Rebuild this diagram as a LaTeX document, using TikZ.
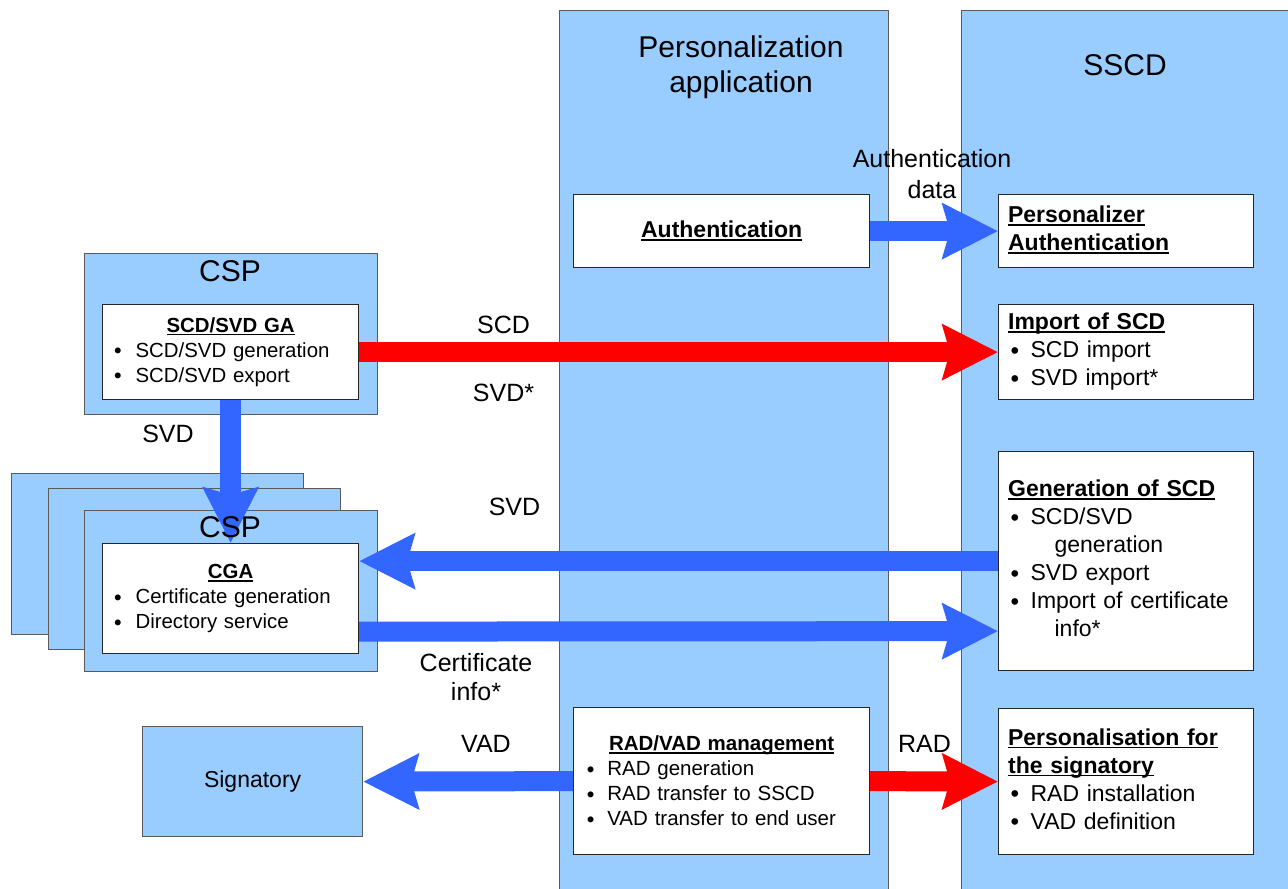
\documentclass[tikz,border=0pt]{standalone}
\usepackage{fontspec}
\setmainfont{Liberation Sans}
\newfontfamily\bulfont{DejaVu Sans}
\usetikzlibrary{arrows.meta}
\definecolor{lblue}{HTML}{99CCFF}
\definecolor{abl}{HTML}{3366FF}
\definecolor{ared}{HTML}{FF0000}
\definecolor{edgegray}{HTML}{5A5A5A}
\newsavebox{\myulbox}
\newcommand{\myul}[1]{\sbox{\myulbox}{#1}\rlap{\rule[-3.2pt]{\wd\myulbox}{1.6pt}}\usebox{\myulbox}}
\newcommand{\hd}[1]{\textbf{\myul{#1}}}
\newcommand{\bl}[2]{\makebox[#1][l]{\raisebox{-0.07em}{\bulfont •}}#2}
\newcommand{\twol}[2]{\begin{tabular}[t]{@{}c@{}}#1\\#2\end{tabular}}
\begin{document}
\begin{tikzpicture}[x=1pt,y=-1pt,
  colbox/.style={draw=edgegray, fill=lblue, line width=1.2pt, anchor=north west, inner sep=0pt},
  cspbox/.style={draw=edgegray, fill=lblue, line width=1.2pt, anchor=north west, inner sep=0pt},
  wbox/.style={draw=black!85, fill=white, line width=1.2pt, anchor=north west, inner ysep=0pt},
  lftxt/.style={font=\fontsize{20.4}{25}\selectfont, align=left, text width=237.4pt, inner xsep=9.3pt},
  rgtxt/.style={font=\fontsize{23}{28}\selectfont, align=left, text width=236pt, inner xsep=9.5pt},
  title/.style={anchor=base, inner sep=0pt, font=\fontsize{30}{35}\selectfont},
  lbl/.style={anchor=base, inner sep=0pt, font=\fontsize{25}{30}\selectfont},
  bigarr/.style={line width=20pt, -{Stealth[length=55pt,width=54pt,inset=7pt]}},
]
\useasboundingbox (0,0) rectangle (1288,889);

% columns
\node[colbox, minimum width=329pt, minimum height=890pt] (persapp) at (559,10) {};
\node[colbox, minimum width=345pt, minimum height=890pt] (sscd) at (961,10) {};
\node[title] (persapptitle) at (741,57) {\twol{Personalization}{application}};
\node[title] (sscdtitle) at (1125,75) {SSCD};

% CSP boxes
\node[cspbox, minimum width=293pt, minimum height=161pt] (cspa) at (84,253) {};
\node[cspbox, minimum width=292pt, minimum height=161pt] (cspb1) at (11,473) {};
\node[cspbox, minimum width=292pt, minimum height=161pt] (cspb2) at (48,488) {};
\node[cspbox, minimum width=293pt, minimum height=161pt] (cspb3) at (84,510) {};
\node[title] (cspatitle) at (230,281) {CSP};

% white boxes, left
\node[wbox, lftxt, minimum height=95pt] (ga) at (102,304)
 {\strut\hbox to\hsize{\hss\hd{SCD/SVD GA}\hss}\\
  \bl{23.7pt}{SCD/SVD generation}\\
  \bl{23.7pt}{SCD/SVD export}\strut};
\node[wbox, lftxt, minimum height=110pt] (cga) at (102,543)
 {\strut\hbox to\hsize{\hss\hd{CGA}\hss}\\
  \bl{23.7pt}{Certificate generation}\\
  \bl{23.7pt}{Directory service}\strut};
\node[cspbox, minimum width=220pt, minimum height=110pt, font=\fontsize{23}{28}\selectfont] (sig) at (142,726) {Signatory};

% middle column boxes
\node[wbox, minimum width=296pt, minimum height=73pt, font=\fontsize{23}{28}\selectfont] (auth) at (573,194) {\hd{Authentication}};
\node[wbox, minimum height=147pt, font=\fontsize{20.5}{25}\selectfont, align=left, text width=274pt, inner xsep=11pt] (rad) at (573,707)
 {\rule{0pt}{21.5pt}\hbox to\hsize{\hss\hd{RAD/VAD management}\hss}\\
  \bl{22.7pt}{RAD generation}\\
  \bl{22.7pt}{RAD transfer to SSCD}\\
  \bl{22.7pt}{VAD transfer to end user}\strut};

% SSCD boxes
\node[wbox, rgtxt, minimum height=73pt] (pauth) at (998,194)
 {\strut\hd{Personalizer}\\ \hd{Authentication}\strut};
\node[wbox, rgtxt, minimum height=95pt] (imp) at (998,304)
 {\strut\hd{Import of SCD}\\
  \bl{22.5pt}{SCD import}\\
  \bl{22.5pt}{SVD import*}\strut};
\node[wbox, rgtxt, minimum height=219pt] (gen) at (998,451)
 {\strut\hd{Generation of SCD}\\
  \bl{22.5pt}{SCD/SVD}\\
  \hspace*{46.5pt}generation\\
  \bl{22.5pt}{SVD export}\\
  \bl{22.5pt}{Import of certificate}\\
  \hspace*{46.5pt}info*\strut};
\node[wbox, rgtxt, minimum height=146pt] (pers) at (998,708)
 {\strut\hd{Personalisation for}\\
  \hd{the signatory}\\
  \bl{22.5pt}{RAD installation}\\
  \bl{22.5pt}{VAD definition}\strut};

% arrows
\draw[bigarr, abl] (auth.east) -- (pauth.west);
\draw[bigarr, ared] (ga.east) -- (imp.west);
\draw[bigarr, abl, line width=21pt] (ga.south) -- (cga.north);
\draw[bigarr, abl] (gen.west) -- (gen.west -| cga.east);
\draw[bigarr, abl] ([yshift=-33pt]cga.east) -- ([yshift=-70pt]gen.west);
\draw[bigarr, abl] (rad.west) -- (sig.east);
\draw[bigarr, ared] (rad.east) -- (pers.west);

\node[title] (cspbtitle) at (230,537) {CSP};

% labels
\node[lbl, font=\fontsize{25}{31}\selectfont] (lauth) at (932,167) {\twol{Authentication}{data}};
\node[lbl] (lscd) at (503.5,333) {SCD};
\node[lbl] (lsvdst) at (503.5,401) {SVD*};
\node[lbl] (lsvdl) at (168,442) {SVD};
\node[lbl] (lsvdm) at (514.5,515) {SVD};
\node[lbl, font=\fontsize{25}{29}\selectfont] (lcert) at (476,671) {\twol{Certificate}{info*}};
\node[lbl] (lvad) at (486,752) {VAD};
\node[lbl] (lrad) at (924.5,752) {RAD};
\end{tikzpicture}
\end{document}
